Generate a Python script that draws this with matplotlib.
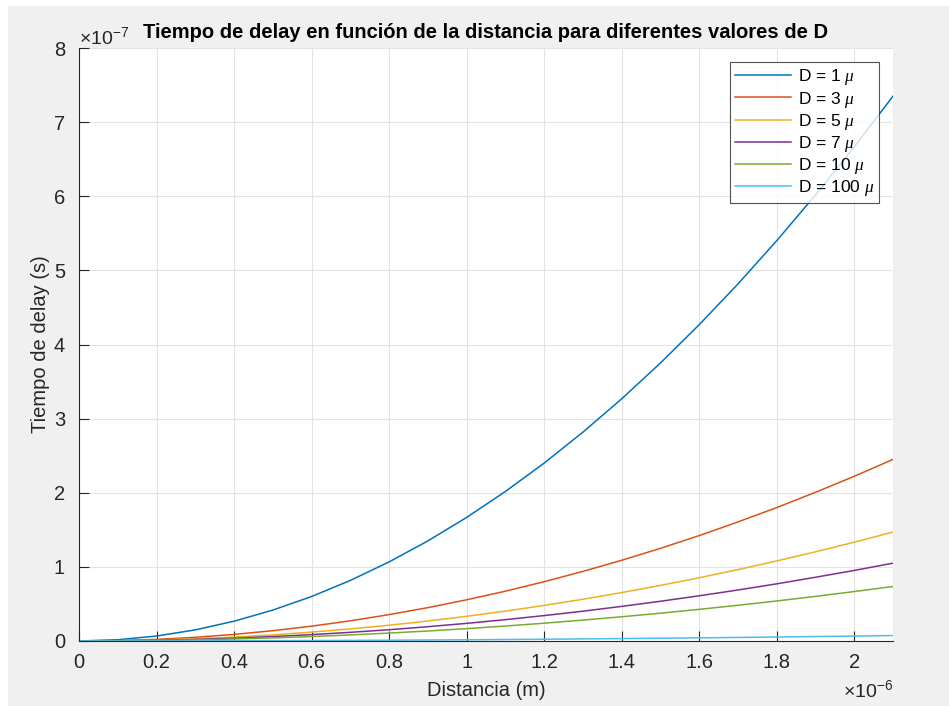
#!/usr/bin/env python3
# -*- coding: utf-8 -*-

"""
Tiempo de delay en funcion de la distancia para diferentes valores de D
"""

import matplotlib
matplotlib.use('Agg')
import matplotlib.pyplot as plt
from matplotlib.patches import Rectangle
from matplotlib.ticker import FuncFormatter, MultipleLocator

plt.rcParams['font.family'] = ['Liberation Sans', 'DejaVu Sans']
plt.rcParams['mathtext.fontset'] = 'custom'
plt.rcParams['mathtext.it'] = 'Liberation Serif:italic'
plt.rcParams['mathtext.rm'] = 'Liberation Sans'

# distancia en unidades de 1e-6 m
distancia = [0.0, 0.1, 0.2, 0.3, 0.4, 0.5, 0.6, 0.7, 0.8, 0.9, 1.0,
             1.1, 1.2, 1.3, 1.4, 1.5, 1.6, 1.7, 1.8, 1.9, 2.0, 2.1]

# tiempo de delay en unidades de 1e-7 s
delay_d1 = [0, 0.017, 0.067, 0.15, 0.267, 0.417, 0.6, 0.817, 1.067, 1.35, 1.667,
            2.017, 2.4, 2.817, 3.267, 3.75, 4.267, 4.817, 5.4, 6.017, 6.667, 7.35]
delay_d3 = [0, 0.006, 0.022, 0.05, 0.089, 0.139, 0.2, 0.272, 0.356, 0.45, 0.556,
            0.672, 0.8, 0.939, 1.089, 1.25, 1.422, 1.606, 1.8, 2.006, 2.222, 2.45]
delay_d5 = [0, 0.003, 0.013, 0.03, 0.053, 0.083, 0.12, 0.163, 0.213, 0.27, 0.333,
            0.403, 0.48, 0.563, 0.653, 0.75, 0.853, 0.963, 1.08, 1.203, 1.333, 1.47]
delay_d7 = [0, 0.002, 0.01, 0.021, 0.038, 0.06, 0.086, 0.117, 0.152, 0.193, 0.238,
            0.288, 0.343, 0.402, 0.467, 0.536, 0.61, 0.688, 0.771, 0.86, 0.952, 1.05]
delay_d10 = [0, 0.002, 0.007, 0.015, 0.027, 0.042, 0.06, 0.082, 0.107, 0.135, 0.167,
             0.202, 0.24, 0.282, 0.327, 0.375, 0.427, 0.482, 0.54, 0.602, 0.667, 0.735]
delay_d100 = [0, 0.0002, 0.0007, 0.0015, 0.0027, 0.0042, 0.006, 0.0082, 0.0107,
              0.0135, 0.0167, 0.0202, 0.024, 0.0282, 0.0327, 0.0375, 0.0427,
              0.0482, 0.054, 0.0602, 0.0667, 0.0735]

valores_d = [1, 3, 5, 7, 10, 100]
series = [delay_d1, delay_d3, delay_d5, delay_d7, delay_d10, delay_d100]
colores = ['#0072BD', '#D95319', '#EDB120', '#7E2F8E', '#77AC30', '#4DBEEE']


def main() -> None:
	fig = plt.figure(figsize=(9.49, 7.06), dpi=100)
	fig.patch.set_facecolor('white')
	fig.patches.append(Rectangle((8 / 949, 0), 1, 1 - 6 / 706,
		transform=fig.transFigure, facecolor='#F0F0F0', edgecolor='none', zorder=-10))

	ax = fig.add_axes([79 / 949, 1 - 641 / 706, (893 - 79) / 949, (641 - 48) / 706])
	ax.set_facecolor('white')

	for d, y, c in zip(valores_d, series, colores):
		ax.plot(distancia, y, color=c, lw=1.1, label='D = {} $\\mu$'.format(d))

	ax.set_xlim(0, 2.1)
	ax.set_ylim(0, 8)
	ax.xaxis.set_major_locator(MultipleLocator(0.2))
	ax.yaxis.set_major_locator(MultipleLocator(1))
	fmt = FuncFormatter(lambda v, pos: '{:g}'.format(round(v, 6)))
	ax.xaxis.set_major_formatter(fmt)
	ax.yaxis.set_major_formatter(fmt)

	ax.grid(True, color='#E3E3E3', lw=0.8)
	ax.set_axisbelow(True)
	for side in ['top', 'right']:
		ax.spines[side].set_visible(False)
	for side in ['left', 'bottom']:
		ax.spines[side].set_color('#262626')
		ax.spines[side].set_linewidth(0.8)
	ax.tick_params(direction='in', length=7, width=0.8, colors='#262626',
		labelsize=14.5, pad=9)
	ax.tick_params(axis='y', pad=10)

	ax.set_title('Tiempo de delay en función de la distancia para diferentes valores de D',
		fontsize=14.5, fontweight='bold', pad=7)
	ax.set_xlabel('Distancia (m)', fontsize=14.5, color='#262626', labelpad=6)
	ax.set_ylabel('Tiempo de delay (s)', fontsize=14.5, color='#262626', labelpad=3)

	# factores de escala de los ejes
	ax.text(0.0, 1.0, '$\\times\\mathregular{10^{-7}}$', transform=ax.transAxes,
		fontsize=14, color='#262626', ha='left', va='bottom')
	ax.text(1.0, -0.094, '$\\times\\mathregular{10^{-6}}$', transform=ax.transAxes,
		fontsize=14, color='#262626', ha='right', va='baseline')

	leg = ax.legend(loc='upper right', bbox_to_anchor=(0.983, 0.976), fontsize=12.5,
		frameon=True, fancybox=False, handlelength=3.2, handletextpad=0.4,
		borderpad=0.3, labelspacing=0.12, borderaxespad=0)
	leg.get_frame().set_edgecolor('#262626')
	leg.get_frame().set_linewidth(0.8)

	plt.savefig('out.png', dpi=100, facecolor=fig.get_facecolor())
	plt.close()


if __name__ == '__main__':
	main()
